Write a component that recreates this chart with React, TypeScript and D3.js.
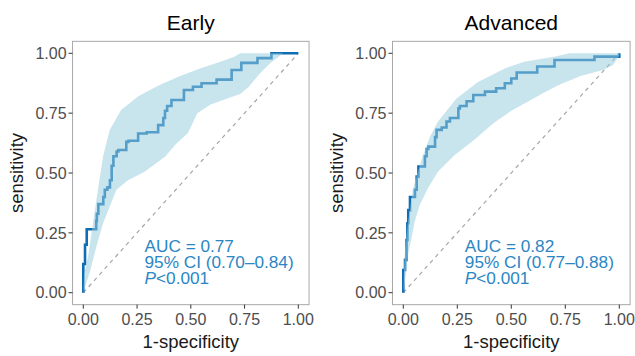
import * as d3 from "d3";
import React from "react";

const W = 635;
const H = 356;

const ticks = [0, 0.25, 0.5, 0.75, 1];

// ROC steps, [1-specificity, sensitivity]
const earlyCurve = [
  [0, 0], [0, 0.12], [0.008, 0.2], [0.016, 0.265], [0.06, 0.3], [0.063, 0.33],
  [0.07, 0.37], [0.093, 0.4], [0.1, 0.43], [0.112, 0.44], [0.124, 0.47],
  [0.132, 0.53], [0.14, 0.57], [0.155, 0.59], [0.163, 0.596], [0.2, 0.63],
  [0.21, 0.635], [0.255, 0.665], [0.295, 0.67], [0.348, 0.7], [0.372, 0.73],
  [0.38, 0.76], [0.39, 0.78], [0.41, 0.805], [0.468, 0.847], [0.51, 0.86],
  [0.55, 0.875], [0.62, 0.89], [0.69, 0.93], [0.735, 0.96], [0.81, 0.98],
  [0.875, 1], [1, 1],
];
const earlyUpper = [
  [0, 0], [0.004, 0.08], [0.022, 0.15], [0.045, 0.29], [0.068, 0.43],
  [0.092, 0.57], [0.123, 0.68], [0.176, 0.763], [0.254, 0.82], [0.31, 0.847],
  [0.36, 0.87], [0.45, 0.905], [0.54, 0.935], [0.62, 0.96], [0.7, 0.985],
  [0.73, 1], [1, 1],
];
const earlyLower = [
  [0, 0], [0.03, 0.085], [0.06, 0.19], [0.092, 0.29], [0.123, 0.36],
  [0.154, 0.43], [0.208, 0.47], [0.285, 0.505], [0.38, 0.568], [0.43, 0.62],
  [0.487, 0.667], [0.53, 0.75], [0.59, 0.785], [0.65, 0.805], [0.73, 0.83],
  [0.77, 0.86], [0.82, 0.915], [0.87, 0.96], [0.915, 0.99], [0.93, 1], [1, 1],
];

const advCurve = [
  [0, 0], [0, 0.095], [0.008, 0.137], [0.015, 0.22], [0.019, 0.29],
  [0.023, 0.345], [0.031, 0.4], [0.054, 0.43], [0.062, 0.485], [0.07, 0.527],
  [0.1, 0.57], [0.108, 0.6], [0.116, 0.61], [0.147, 0.65], [0.154, 0.68],
  [0.178, 0.69], [0.2, 0.715], [0.216, 0.73], [0.255, 0.77], [0.262, 0.78],
  [0.293, 0.8], [0.324, 0.826], [0.378, 0.84], [0.43, 0.854], [0.47, 0.875],
  [0.5, 0.895], [0.525, 0.92], [0.62, 0.945], [0.7, 0.972], [0.885, 0.986],
  [1, 1],
];
const advUpper = [
  [0, 0], [0.003, 0.09], [0.006, 0.157], [0.022, 0.297], [0.045, 0.436],
  [0.091, 0.575], [0.123, 0.65], [0.16, 0.714], [0.245, 0.81], [0.346, 0.88],
  [0.47, 0.937], [0.56, 0.965], [0.71, 0.988], [0.77, 1], [1, 1],
];
const advLower = [
  [0, 0], [0.014, 0.088], [0.022, 0.157], [0.053, 0.297], [0.076, 0.366],
  [0.114, 0.436], [0.16, 0.505], [0.238, 0.575], [0.33, 0.64], [0.42, 0.71],
  [0.5, 0.76], [0.58, 0.8], [0.65, 0.835], [0.725, 0.87], [0.82, 0.905],
  [0.925, 0.93], [0.97, 0.95], [1, 0.99],
];

const earlyStats = ["AUC = 0.77", "95% CI (0.70–0.84)", "<0.001"];
const advStats = ["AUC = 0.82", "95% CI (0.77–0.88)", "<0.001"];

const font = "Liberation Sans, Arial, Helvetica, sans-serif";
const lineColor = "#0e6db3";
const bandColor = "#95cbdd";
const textColor = "#2a86c4";

function Panel({ title, curve, upper, lower, stats, left, right }) {
  const x = d3.scaleLinear().domain([0, 1]).range([left, right]);
  const y = d3.scaleLinear().domain([0, 1]).range([292.7, 53.3]);
  const fmt = d3.format(".2f");

  const pt = d3.line().x((d) => x(d[0])).y((d) => y(d[1]));
  const step = d3
    .line()
    .curve(d3.curveStepAfter)
    .x((d) => x(d[0]))
    .y((d) => y(d[1]));
  const band = pt([...upper, ...lower.slice().reverse()]) + "Z";

  const px0 = x(-0.05), px1 = x(1.05);
  const py0 = y(1.05), py1 = y(-0.05);
  const cx = (x(0) + x(1)) / 2;
  const cy = (py0 + py1) / 2;

  return (
    <g fontFamily={font}>
      <text x={cx} y={30} textAnchor="middle" fontSize={21} fill="#000">
        {title}
      </text>

      {/* diagonal */}
      <line
        x1={x(0)} y1={y(0)} x2={x(1)} y2={y(1)}
        stroke="#a6a6a6" strokeWidth={1.2} strokeDasharray="4,4"
      />

      {/* roc line, with band drawn over it */}
      <path d={step(curve)} fill="none" stroke={lineColor} strokeWidth={2.6} />
      <path d={band} fill={bandColor} fillOpacity={0.52} stroke="none" />

      <rect
        x={px0} y={py0} width={px1 - px0} height={py1 - py0}
        fill="none" stroke="#a8a8a8" strokeWidth={1}
      />

      {/* y axis */}
      {ticks.map((t) => (
        <g key={"y" + t}>
          <line x1={px0 - 4} x2={px0} y1={y(t)} y2={y(t)} stroke="#333" strokeWidth={1} />
          <text
            x={px0 - 6} y={y(t)} dy="0.36em" textAnchor="end"
            fontSize={16} fill="#4d4d4d"
          >
            {fmt(t)}
          </text>
        </g>
      ))}
      {/* x axis */}
      {ticks.map((t) => (
        <g key={"x" + t}>
          <line x1={x(t)} x2={x(t)} y1={py1} y2={py1 + 4} stroke="#333" strokeWidth={1} />
          <text x={x(t)} y={325} textAnchor="middle" fontSize={16} fill="#4d4d4d">
            {fmt(t)}
          </text>
        </g>
      ))}

      <text x={cx} y={348} textAnchor="middle" fontSize={18.5} fill="#1a1a1a">
        1-specificity
      </text>
      <text
        transform={`translate(${left - 60.5},${cy}) rotate(-90)`}
        textAnchor="middle" fontSize={18.5} fill="#1a1a1a"
      >
        sensitivity
      </text>

      <g fill={textColor} fontSize={17.2}>
        <text x={x(0.285)} y={251.7}>{stats[0]}</text>
        <text x={x(0.285)} y={268.1}>{stats[1]}</text>
        <text x={x(0.285)} y={284.4}>
          <tspan fontStyle="italic">P</tspan>
          {stats[2]}
        </text>
      </g>
    </g>
  );
}

export default function App() {
  return (
    <svg
      width={W}
      height={H}
      style={{ position: "absolute", left: 0, top: 0, background: "#fff" }}
    >
      <Panel
        title="Early" curve={earlyCurve} upper={earlyUpper} lower={earlyLower}
        stats={earlyStats} left={83.3} right={298.3}
      />
      <Panel
        title="Advanced" curve={advCurve} upper={advUpper} lower={advLower}
        stats={advStats} left={403.3} right={619.3}
      />
    </svg>
  );
}
